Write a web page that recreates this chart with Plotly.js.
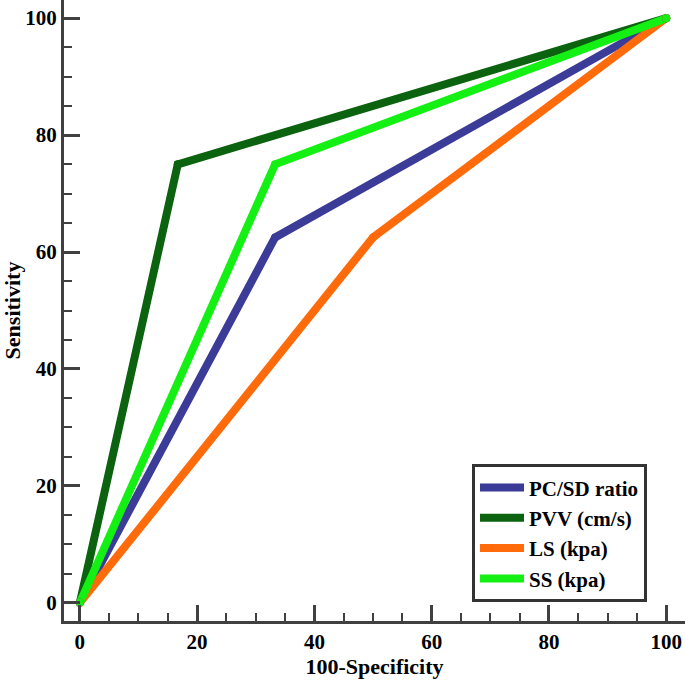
<!DOCTYPE html>
<html>
<head>
<meta charset="utf-8">
<script src="https://cdn.plot.ly/plotly-3.0.1.min.js"></script>
<style>html,body{margin:0;padding:0;background:#fff;}#chart{width:685px;height:680px;}</style>
</head>
<body>
<div id="chart"></div>
<script>
var seriesNames = ["PC/SD ratio", "PVV (cm/s)", "LS (kpa)", "SS (kpa)"];
var seriesColors = ["#3b3b98", "#0b630f", "#ff6a0a", "#14f014"];
var pcsdX = [0, 33.3, 100];
var pcsdY = [0, 62.5, 100];
var pvvX = [0, 16.7, 100];
var pvvY = [0, 75, 100];
var lsX = [0, 50, 100];
var lsY = [0, 62.5, 100];
var ssX = [0, 33.3, 100];
var ssY = [0, 75, 100];
var tickVals = [0, 20, 40, 60, 80, 100];
var tickText = ["0", "20", "40", "60", "80", "100"];

var xs = [pcsdX, pvvX, lsX, ssX];
var ys = [pcsdY, pvvY, lsY, ssY];
var traces = [];
for (var i = 0; i < 4; i++) {
  traces.push({
    x: xs[i], y: ys[i], type: "scatter", mode: "lines",
    name: seriesNames[i],
    line: {color: seriesColors[i], width: 8},
    showlegend: true
  });
}
for (var j = 0; j < 4; j++) {
  traces.push({
    x: xs[j], y: ys[j], type: "scatter", mode: "markers",
    marker: {color: seriesColors[j], size: 8, line: {width: 0}},
    showlegend: false, hoverinfo: "skip"
  });
}
var fam = "Liberation Serif, Times New Roman, serif";
var axisCommon = {
  showgrid: false, zeroline: false, showline: true, linecolor: "#404040", linewidth: 3,
  ticks: "inside", ticklen: 16, tickwidth: 3, tickcolor: "#404040",
  tickvals: tickVals, ticktext: tickText,
  tickfont: {family: fam, size: 21, color: "#000", weight: "bold"},
  minor: {ticks: "inside", dtick: 5, ticklen: 8, tickwidth: 2, tickcolor: "#404040", showgrid: false},
  fixedrange: true
};
var layout = {
  width: 685, height: 680,
  margin: {l: 64, r: 0, t: 0, b: 59},
  paper_bgcolor: "#fff", plot_bgcolor: "#fff",
  font: {family: fam, size: 20, color: "#000"},
  showlegend: true,
  xaxis: Object.assign({}, axisCommon, {
    range: [-2.7, 103.2],
    title: {text: "100-Specificity", font: {family: fam, size: 22, color: "#000", weight: "bold"}, standoff: 4}
  }),
  yaxis: Object.assign({}, axisCommon, {
    range: [-3.1, 103.1],
    title: {text: "Sensitivity", font: {family: fam, size: 22, color: "#000", weight: "bold"}, standoff: 6}
  }),
  legend: {
    x: 0.657, y: 0.03, xanchor: "left", yanchor: "bottom",
    bgcolor: "#fff", bordercolor: "#333", borderwidth: 3,
    font: {family: fam, size: 21, color: "#000", weight: "bold"},
    itemwidth: 44, tracegroupgap: 0, entrywidth: 178, entrywidthmode: "pixels"
  }
};
Plotly.newPlot("chart", traces, layout, {displayModeBar: false, staticPlot: true});
</script>
</body>
</html>
